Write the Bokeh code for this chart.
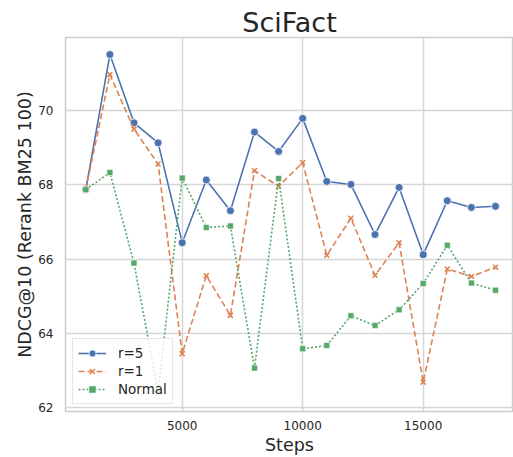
from bokeh.plotting import figure
from bokeh.models import FixedTicker, Range1d
from bokeh.embed import file_html
from bokeh.resources import INLINE

steps = [1000, 2000, 3000, 4000, 5000, 6000, 7000, 8000, 9000,
         10000, 11000, 12000, 13000, 14000, 15000, 16000, 17000, 18000]
r5 = [67.87, 71.51, 69.67, 69.13, 66.44, 68.13, 67.30, 69.42, 68.90,
      69.79, 68.09, 68.01, 66.66, 67.93, 66.12, 67.57, 67.39, 67.42]
r1 = [67.87, 70.97, 69.50, 68.56, 63.45, 65.55, 64.48, 68.38, 67.96,
      68.60, 66.10, 67.10, 65.56, 66.44, 62.68, 65.73, 65.53, 65.78]
normal = [67.87, 68.33, 65.89, 62.42, 68.18, 66.85, 66.89, 63.06, 68.17,
          63.58, 63.67, 64.47, 64.21, 64.63, 65.34, 66.37, 65.35, 65.16]
x_ticks = [5000, 10000, 15000]
y_ticks = [62, 64, 66, 68, 70]

FONT = "DejaVu Sans"
TXT = "#262626"

p = figure(width=513, height=457, output_backend="svg", toolbar_location=None,
           x_range=Range1d(158, 18747), y_range=Range1d(61.89, 71.97),
           min_border_left=65, min_border_right=0, min_border_top=37,
           min_border_bottom=45, background_fill_color="white",
           border_fill_color="white")

p.title.text = "SciFact"
p.title.align = "center"
p.title.text_font = FONT
p.title.text_font_size = "27px"
p.title.text_font_style = "normal"
p.title.text_color = TXT
p.title.standoff = 0

p.outline_line_color = "#cccccc"
p.outline_line_width = 1.5

for ax in (p.xaxis[0], p.yaxis[0]):
    ax.axis_line_color = None
    ax.major_tick_line_color = None
    ax.minor_tick_line_color = None
    ax.major_tick_out = 0
    ax.major_tick_in = 0
    ax.minor_tick_out = 0
    ax.minor_tick_in = 0
    ax.major_label_text_font = FONT
    ax.major_label_text_font_size = "12px"
    ax.major_label_text_color = TXT
    ax.axis_label_text_font = FONT
    ax.axis_label_text_font_size = "17.5px"
    ax.axis_label_text_font_style = "normal"
    ax.axis_label_text_color = TXT

p.xaxis.ticker = FixedTicker(ticks=x_ticks)
p.yaxis.ticker = FixedTicker(ticks=y_ticks)
p.xaxis.axis_label = "Steps"
p.yaxis.axis_label = "NDCG@10 (Rerank BM25 100)"
p.xaxis.major_label_standoff = 9
p.yaxis.major_label_standoff = 12
p.xaxis.axis_label_standoff = 2
p.yaxis.axis_label_standoff = 0

p.xgrid.ticker = FixedTicker(ticks=x_ticks)
p.ygrid.ticker = FixedTicker(ticks=y_ticks)
for g in (p.xgrid[0], p.ygrid[0]):
    g.grid_line_color = "#d6d6d6"
    g.grid_line_width = 1.5

BLUE, ORANGE, GREEN = "#4C72B0", "#DD8452", "#55A868"

p.line(steps, r5, color=BLUE, line_width=1.6, legend_label="r=5")
p.scatter(steps, r5, marker="circle", size=8, fill_color=BLUE,
          line_color="white", line_width=0.8, legend_label="r=5")

p.line(steps, r1, color=ORANGE, line_width=1.6, line_dash="6 3", legend_label="r=1")
p.scatter(steps, r1, marker="x", size=7, line_color=ORANGE, line_width=1.6,
          legend_label="r=1")

p.line(steps, normal, color=GREEN, line_width=1.6, line_dash="2 2", legend_label="Normal")
p.scatter(steps, normal, marker="square", size=6, fill_color=GREEN,
          line_color="white", line_width=0.6, legend_label="Normal")

lg = p.legend[0]
lg.location = "bottom_left"
lg.margin = 7
lg.padding = 5
lg.spacing = 0
lg.glyph_width = 28
lg.glyph_height = 18
lg.label_height = 18
lg.label_standoff = 12
lg.label_text_font = FONT
lg.label_text_font_size = "13.5px"
lg.label_text_color = TXT
lg.border_line_color = "#cccccc"
lg.border_line_width = 1
lg.background_fill_color = "white"
lg.background_fill_alpha = 0.8

open("out.html", "w").write(file_html(p, INLINE))
